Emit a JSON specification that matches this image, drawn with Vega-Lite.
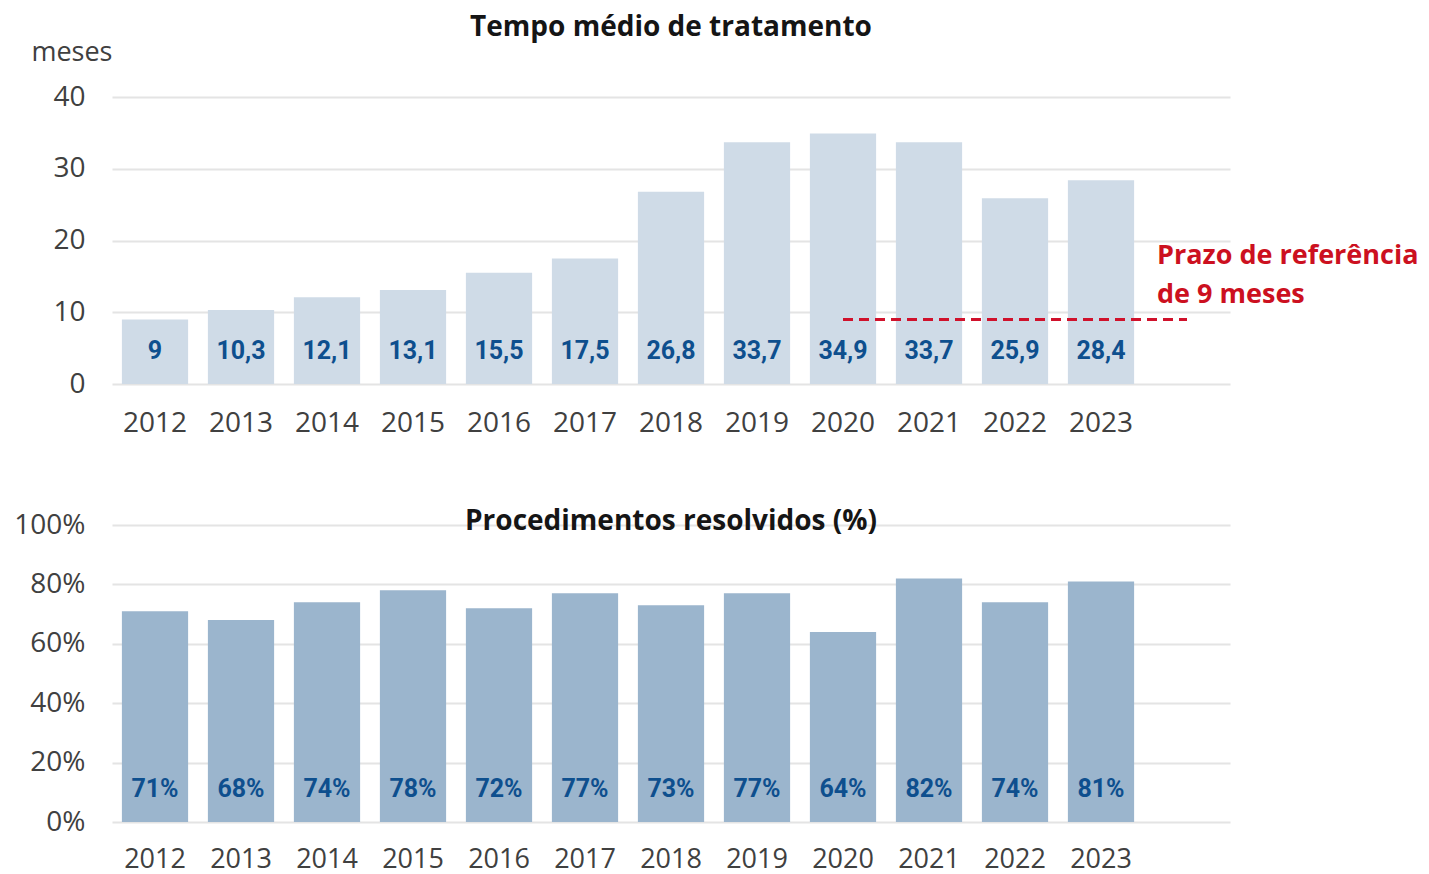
{
  "$schema": "https://vega.github.io/schema/vega-lite/v6.json",
  "background": "white",
  "padding": {"left": 13, "top": 14, "right": 5, "bottom": 2},
  "config": {
    "font": "Open Sans",
    "view": {"stroke": null},
    "locale": {"number": {"decimal": ",", "thousands": ".", "grouping": [3], "currency": ["", " €"]}},
    "axis": {"domain": false, "ticks": false, "gridColor": "#e4e4e4", "gridWidth": 2, "labelFont": "Open Sans", "labelFontSize": 28, "labelColor": "#404040"},
    "axisX": {"labelPadding": 25},
    "axisY": {"labelPadding": 27},
    "title": {"font": "Open Sans", "fontSize": 28, "fontWeight": "bold", "color": "#151515", "anchor": "middle", "frame": "group", "baseline": "middle"}
  },
  "spacing": 71,
  "vconcat": [
    {
      "width": 1118,
      "height": 287,
      "title": {"text": "Tempo médio de tratamento", "offset": -4},
      "data": {"values": [
        {"ano": "2012", "meses": 9},
        {"ano": "2013", "meses": 10.3},
        {"ano": "2014", "meses": 12.1},
        {"ano": "2015", "meses": 13.1},
        {"ano": "2016", "meses": 15.5},
        {"ano": "2017", "meses": 17.5},
        {"ano": "2018", "meses": 26.8},
        {"ano": "2019", "meses": 33.7},
        {"ano": "2020", "meses": 34.9},
        {"ano": "2021", "meses": 33.7},
        {"ano": "2022", "meses": 25.9},
        {"ano": "2023", "meses": 28.4}
      ]},
      "layer": [
        {
          "mark": {"type": "bar", "color": "#cfdbe7"},
          "encoding": {
            "x": {"field": "ano", "type": "nominal",
              "scale": {"domain": ["2012","2013","2014","2015","2016","2017","2018","2019","2020","2021","2022","2023","ref"], "paddingInner": 0.23, "paddingOuter": 0.115},
              "axis": {"title": null, "labelAngle": 0, "grid": false, "labelExpr": "datum.value == 'ref' ? '' : datum.value"}},
            "y": {"field": "meses", "type": "quantitative", "scale": {"domain": [0, 40]},
              "axis": {"values": [0, 10, 20, 30, 40], "title": "meses", "titleAngle": 0, "titleAlign": "right", "titleX": 0, "titleY": -45, "titleBaseline": "middle", "titleFontSize": 27, "titleFontWeight": "normal", "titleColor": "#404040", "titleFont": "Open Sans"}}
          }
        },
        {
          "mark": {"type": "text", "font": "Roboto", "fontWeight": "bold", "fontSize": 25, "color": "#0e4f8e", "baseline": "middle", "dy": -33},
          "encoding": {
            "x": {"field": "ano", "type": "nominal"},
            "y": {"datum": 0},
            "text": {"field": "meses", "type": "quantitative", "format": ".1~f"}
          }
        },
        {
          "data": {"values": [{"ini": "2020", "fim": "ref", "valor": 9}]},
          "mark": {"type": "rule", "color": "#d0112b", "strokeWidth": 3, "strokeDash": [10, 6]},
          "encoding": {
            "x": {"field": "ini", "type": "nominal"},
            "x2": {"field": "fim"},
            "y": {"field": "valor", "type": "quantitative"}
          }
        },
        {
          "data": {"values": [{"ano": "ref", "nota": "Prazo de referência\nde 9 meses"}]},
          "mark": {"type": "text", "font": "Open Sans", "fontWeight": "bold", "fontSize": 27, "color": "#cc1020", "align": "left", "baseline": "alphabetic", "dx": -30, "lineBreak": "\n", "lineHeight": 39},
          "encoding": {
            "x": {"field": "ano", "type": "nominal"},
            "y": {"datum": 16.7},
            "text": {"field": "nota"}
          }
        }
      ]
    },
    {
      "width": 1118,
      "height": 297,
      "title": {"text": "Procedimentos resolvidos (%)", "offset": -25},
      "data": {"values": [
        {"ano": "2012", "resolvidos": 0.71},
        {"ano": "2013", "resolvidos": 0.68},
        {"ano": "2014", "resolvidos": 0.74},
        {"ano": "2015", "resolvidos": 0.78},
        {"ano": "2016", "resolvidos": 0.72},
        {"ano": "2017", "resolvidos": 0.77},
        {"ano": "2018", "resolvidos": 0.73},
        {"ano": "2019", "resolvidos": 0.77},
        {"ano": "2020", "resolvidos": 0.64},
        {"ano": "2021", "resolvidos": 0.82},
        {"ano": "2022", "resolvidos": 0.74},
        {"ano": "2023", "resolvidos": 0.81}
      ]},
      "layer": [
        {
          "mark": {"type": "bar", "color": "#9bb5cd"},
          "encoding": {
            "x": {"field": "ano", "type": "nominal",
              "scale": {"domain": ["2012","2013","2014","2015","2016","2017","2018","2019","2020","2021","2022","2023","ref"], "paddingInner": 0.23, "paddingOuter": 0.115},
              "axis": {"title": null, "labelAngle": 0, "grid": false, "labelFontSize": 27, "labelPadding": 24, "labelExpr": "datum.value == 'ref' ? '' : datum.value"}},
            "y": {"field": "resolvidos", "type": "quantitative", "scale": {"domain": [0, 1]},
              "axis": {"values": [0, 0.2, 0.4, 0.6, 0.8, 1], "format": ".0%", "title": null}}
          }
        },
        {
          "mark": {"type": "text", "font": "Roboto", "fontWeight": "bold", "fontSize": 25, "color": "#0e4f8e", "baseline": "middle", "dy": -33},
          "encoding": {
            "x": {"field": "ano", "type": "nominal"},
            "y": {"datum": 0},
            "text": {"field": "resolvidos", "type": "quantitative", "format": ".0%"}
          }
        }
      ]
    }
  ]
}
